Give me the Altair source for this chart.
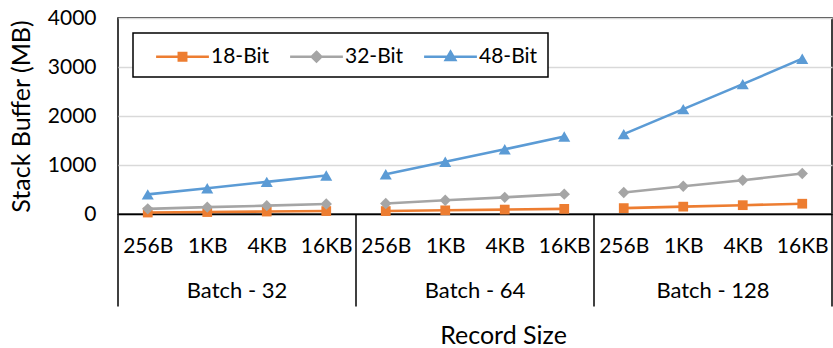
import json
import altair as alt
import pandas as pd

# ---- data ----
batches = ["Batch - 32", "Batch - 64", "Batch - 128"]
record_sizes = ["256B", "1KB", "4KB", "16KB"]
series_names = ["18-Bit", "32-Bit", "48-Bit"]
bit18 = [30, 40, 50, 60, 60, 75, 90, 105, 120, 150, 180, 210]
bit32 = [105, 140, 170, 205, 215, 280, 340, 405, 440, 565, 690, 825]
bit48 = [400, 525, 655, 785, 810, 1065, 1320, 1580, 1630, 2140, 2650, 3170]
y_ticks = [0, 1000, 2000, 3000, 4000]

# ---- styles ----
colors = ["#ED7D31", "#A5A5A5", "#5B9BD5"]
markers = ["square", "diamond", "triangle-up"]
marker_sizes = [95, 130, 145]
legend_paths = [
    "M-2.2,0H2.2M-0.31,-0.31H0.31V0.31H-0.31Z",
    "M-2.2,0H2.2M0,-0.4L0.4,0L0,0.4L-0.4,0Z",
    "M-2.2,0H2.2M0,-0.42L0.4,0.28L-0.4,0.28Z",
]
FONT = "Lato"

n_sizes = len(record_sizes)
n_slots = n_sizes * len(batches)

rows = []
for name, vals in zip(series_names, [bit18, bit32, bit48]):
    for i, v in enumerate(vals):
        rows.append({"series": name, "batch": batches[i // n_sizes], "slot": i + 0.5, "value": v})
df = pd.DataFrame(rows)

groups = pd.DataFrame({"batch": batches,
                       "slot": [i * n_sizes + n_sizes / 2 for i in range(len(batches))]})
edges = pd.DataFrame({"slot": [i * n_sizes for i in range(len(batches) + 1)]})

W, H = 714, 196

x_scale = alt.Scale(domain=[0, n_slots], nice=False, zero=False)
y_scale = alt.Scale(domain=[0, 4000], nice=False)

label_expr = f"{json.dumps(record_sizes)}[floor(datum.value) % {n_sizes}]"

x_axis = alt.Axis(
    values=[i + 0.5 for i in range(n_slots)], labelExpr=label_expr,
    title="Record Size", grid=False, ticks=False, tickSize=0,
    domain=True, domainColor="black", domainWidth=1.5,
    labelFont=FONT, labelFontSize=21, labelColor="black",
    labelBaseline="alphabetic", labelPadding=38, labelFlush=False, labelOverlap=False,
    titleFont=FONT, titleFontSize=25, titleFontWeight="normal", titleColor="black",
    titleX=385, titleY=129, titleBaseline="alphabetic", titleAlign="center",
)
y_axis = alt.Axis(
    values=y_ticks, format="d", title="Stack Buffer (MB)", grid=True, gridColor="#D9D9D9", gridWidth=1.3,
    ticks=False, tickSize=0, domain=False,
    labelFont=FONT, labelFontSize=21, labelColor="black", labelPadding=22,
    titleFont=FONT, titleFontSize=25, titleFontWeight="normal", titleColor="black",
    titleX=-89, titleY=98, titleBaseline="alphabetic", titleAngle=270,
)

X = alt.X("slot:Q", scale=x_scale, axis=x_axis)
Y = alt.Y("value:Q", scale=y_scale, axis=y_axis)

layers = []
for name, col, shp, sz in zip(series_names, colors, markers, marker_sizes):
    sub = alt.Chart(df).transform_filter(alt.datum.series == name)
    layers.append(sub.mark_line(color=col, strokeWidth=2.6).encode(x=X, y=Y, detail="batch:N"))
    layers.append(sub.mark_point(shape=shp, size=sz, filled=True, color=col, opacity=1)
                  .encode(x=X, y=Y))

legend_def = alt.Legend(
    title=None, orient="none", legendX=15, legendY=15, direction="horizontal",
    strokeColor="black", fillColor="white", padding=10, cornerRadius=0,
    symbolSize=576, symbolStrokeWidth=2.5, symbolOffset=26, labelOffset=15,
    columnPadding=7, labelFont=FONT, labelFontSize=21, labelColor="black",
)
legend_layer = alt.Chart(df).transform_filter("false").mark_point(filled=True, opacity=1).encode(
    x=X, y=Y,
    color=alt.Color("series:N", scale=alt.Scale(domain=series_names, range=colors), legend=legend_def),
    stroke=alt.Stroke("series:N", scale=alt.Scale(domain=series_names, range=colors), legend=legend_def),
    shape=alt.Shape("series:N", scale=alt.Scale(domain=series_names, range=legend_paths), legend=legend_def),
)

dividers = alt.Chart(edges).mark_rule(color="black", strokeWidth=1.5).encode(
    x=alt.X("slot:Q", scale=x_scale, axis=x_axis),
    y=alt.value(H), y2=alt.value(H + 92.5),
)
batch_text = alt.Chart(groups).mark_text(
    font=FONT, fontSize=22, color="black", baseline="alphabetic", align="center"
).encode(
    x=alt.X("slot:Q", scale=x_scale, axis=x_axis),
    y=alt.value(H + 84), text="batch:N",
)

chart = alt.layer(*layers, legend_layer, dividers, batch_text).properties(
    width=W, height=H,
    autosize=alt.AutoSizeParams(type="none"),
    padding={"left": 118, "top": 18, "right": 1, "bottom": 134},
    background="white",
).configure_view(stroke="black", strokeWidth=1.5).configure_legend(strokeWidth=1.5)

chart.save("out.html", embed_options={"renderer": "svg", "actions": False})
